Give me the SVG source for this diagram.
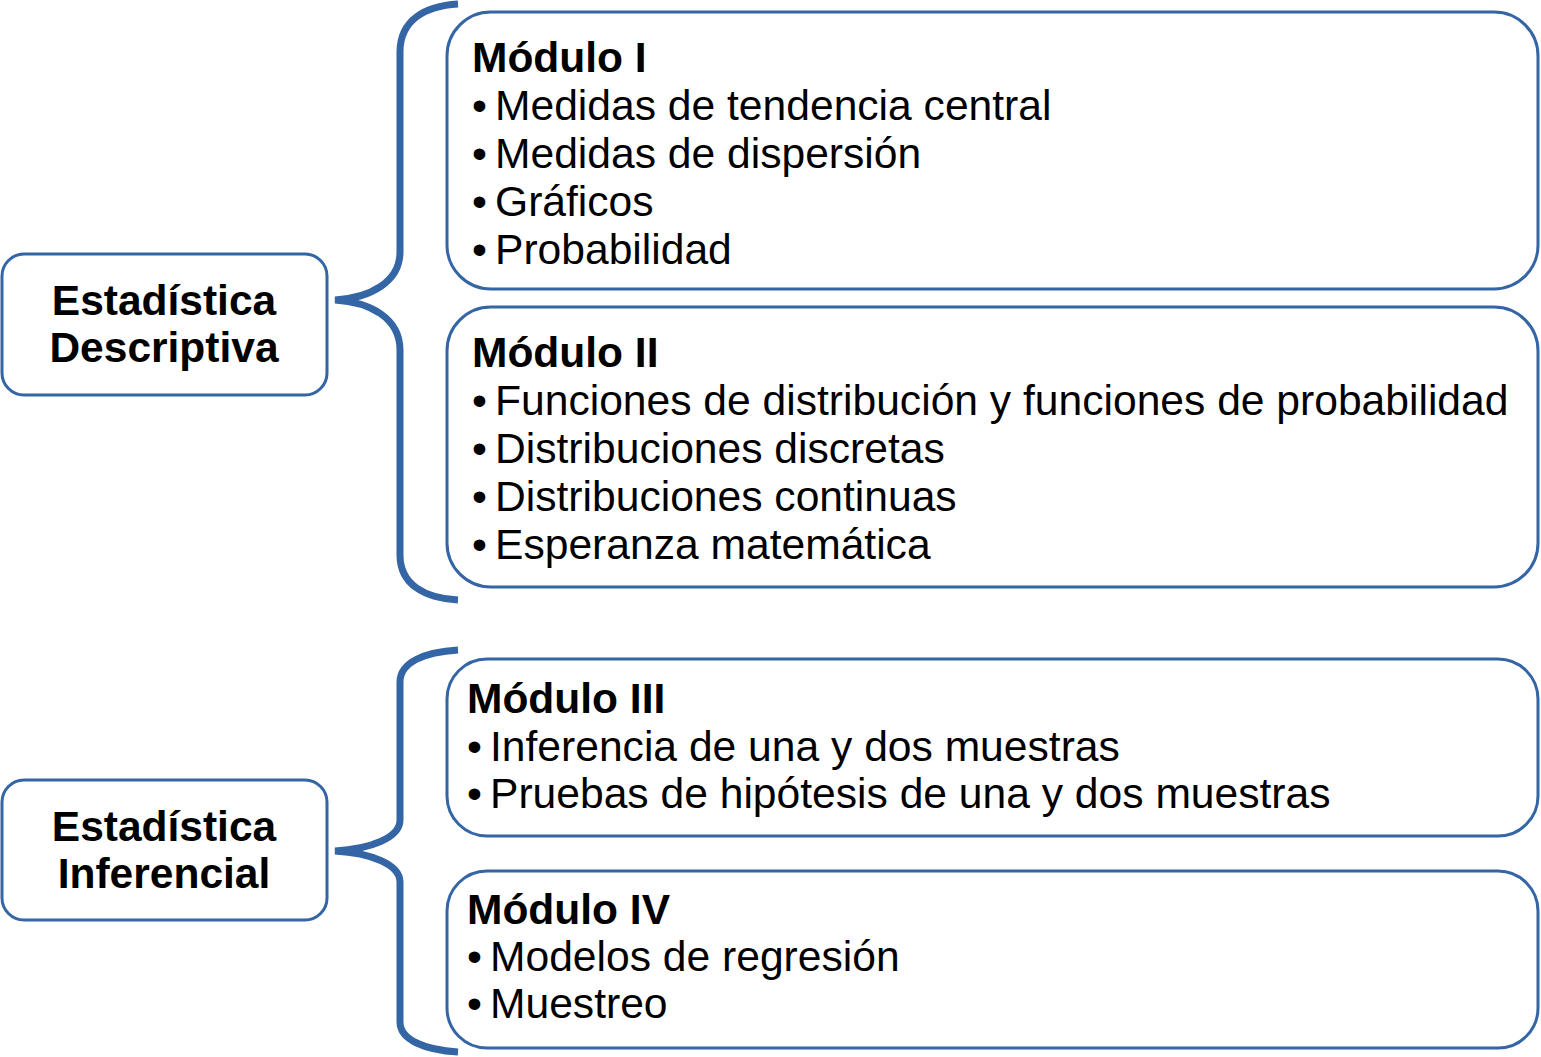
<svg xmlns="http://www.w3.org/2000/svg" width="1541" height="1057" viewBox="0 0 1541 1057">
<style>
.box{fill:#fff;stroke:#3465a4;stroke-width:3}
.brace{fill:none;stroke:#3465a4;stroke-width:7;stroke-linecap:butt}
.lbl{font-family:"Liberation Sans",Arial,sans-serif;font-weight:bold;font-size:42.5px;fill:#000;text-anchor:middle}
.ttl{font-family:"Liberation Sans",Arial,sans-serif;font-weight:bold;font-size:42.5px;fill:#000}
.itm{font-family:"Liberation Sans",Arial,sans-serif;font-size:42.6px;fill:#000}
</style>
<g id="connectors">
<path class="brace" d="M458,4 C425,6 400,20 400,52 L400,252 C400,282 370,298 335,300 C370,302 400,318 400,350 L400,555 C400,585 425,598 458,600"/>
<path class="brace" d="M458,650 C425,652 400,662 400,682 L400,820 C400,838 370,849 335,851 C370,853 400,864 400,882 L400,1022 C400,1040 425,1050 458,1052"/>
</g>
<g id="descriptiva">
<rect class="box" x="2" y="254" width="325" height="141" rx="22"/>
<text class="lbl" x="164" y="315">Estadística</text>
<text class="lbl" x="164" y="362">Descriptiva</text>
</g>
<g id="inferencial">
<rect class="box" x="2" y="780" width="325" height="140" rx="22"/>
<text class="lbl" x="164" y="841">Estadística</text>
<text class="lbl" x="164" y="888">Inferencial</text>
</g>
<g id="modulo1">
<rect class="box" x="447" y="12" width="1091" height="277" rx="44"/>
<text class="ttl" x="472" y="72">Módulo I</text>
<g class="itm">
<text x="472" y="120">•</text><text x="495" y="120">Medidas de tendencia central</text>
<text x="472" y="168">•</text><text x="495" y="168">Medidas de dispersión</text>
<text x="472" y="216">•</text><text x="495" y="216">Gráficos</text>
<text x="472" y="264">•</text><text x="495" y="264">Probabilidad</text>
</g>
</g>
<g id="modulo2">
<rect class="box" x="447" y="307" width="1091" height="280" rx="44"/>
<text class="ttl" x="472" y="367">Módulo II</text>
<g class="itm">
<text x="472" y="415">•</text><text x="495" y="415">Funciones de distribución y funciones de probabilidad</text>
<text x="472" y="463">•</text><text x="495" y="463">Distribuciones discretas</text>
<text x="472" y="511">•</text><text x="495" y="511">Distribuciones continuas</text>
<text x="472" y="559">•</text><text x="495" y="559">Esperanza matemática</text>
</g>
</g>
<g id="modulo3">
<rect class="box" x="447" y="659" width="1091" height="177" rx="40"/>
<text class="ttl" x="467" y="713">Módulo III</text>
<g class="itm">
<text x="467" y="761">•</text><text x="490" y="761">Inferencia de una y dos muestras</text>
<text x="467" y="808">•</text><text x="490" y="808">Pruebas de hipótesis de una y dos muestras</text>
</g>
</g>
<g id="modulo4">
<rect class="box" x="447" y="871" width="1091" height="177" rx="40"/>
<text class="ttl" x="467" y="924">Módulo IV</text>
<g class="itm">
<text x="467" y="971">•</text><text x="490" y="971">Modelos de regresión</text>
<text x="467" y="1018">•</text><text x="490" y="1018">Muestreo</text>
</g>
</g>
</svg>
